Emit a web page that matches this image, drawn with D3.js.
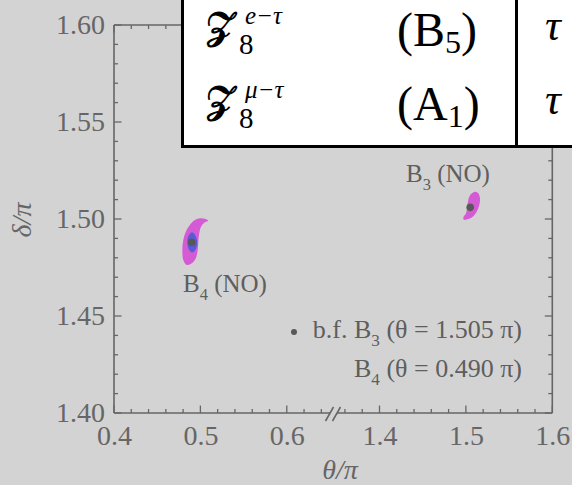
<!DOCTYPE html>
<html>
<head>
<meta charset="utf-8">
<script src="https://cdn.jsdelivr.net/npm/d3@7"></script>
<style>
  html, body { margin: 0; padding: 0; background: #d3d3d3; }
  svg { display: block; }
  text { font-family: "Liberation Serif", "Times New Roman", serif; }
</style>
</head>
<body>
<svg id="chart" width="572" height="485"></svg>
<script>
// Broken theta axis: two windows of theta/pi joined at a break
const xBreak = [0.6535, 1.3462];
const xMajorTicks = [0.4, 0.5, 0.6, 1.4, 1.5, 1.6];
const xMinorTicks = [0.42, 0.44, 0.46, 0.48, 0.52, 0.54, 0.56, 0.58, 0.62, 0.64,
                     1.36, 1.38, 1.42, 1.44, 1.46, 1.48, 1.52, 1.54, 1.56, 1.58];
const yMajorTicks = [1.40, 1.45, 1.50, 1.55, 1.60];
const yMinorTicks = [1.41, 1.42, 1.43, 1.44, 1.46, 1.47, 1.48, 1.49,
                     1.51, 1.52, 1.53, 1.54, 1.56, 1.57, 1.58, 1.59];

// Allowed regions (theta/pi, delta/pi) around the two best-fit points
const regionB4Outer = [
  [0.5073, 1.4998], [0.5091, 1.4991], [0.5045, 1.4981], [0.5007, 1.4960],
  [0.4987, 1.4926], [0.4976, 1.4883], [0.4969, 1.4840], [0.4946, 1.4797],
  [0.4899, 1.4772], [0.4841, 1.4763], [0.4802, 1.4789], [0.4791, 1.4840],
  [0.4802, 1.4892], [0.4841, 1.4943], [0.4899, 1.4981], [0.4957, 1.5000],
  [0.5015, 1.5004]
];
const regionB4Inner = [
  [0.4903, 1.4932], [0.4945, 1.4913], [0.4963, 1.4881], [0.4951, 1.4849],
  [0.4909, 1.4827], [0.4866, 1.4843], [0.4849, 1.4876], [0.4860, 1.4911]
];
const regionB3Outer = [
  [1.5106, 1.5141], [1.5144, 1.5133], [1.5163, 1.5107], [1.5155, 1.5072],
  [1.5125, 1.5038], [1.5079, 1.5012], [1.5028, 1.5000], [1.4978, 1.4996],
  [1.4970, 1.5007], [1.5001, 1.5029], [1.5016, 1.5063], [1.5028, 1.5098],
  [1.5056, 1.5127]
];
const bestFitNames = ["B3", "B4"];
const bestFitTheta = [1.505, 0.490];
const bestFitDelta = [1.506, 1.488];

const svg = d3.select("#chart");
const W = 572, H = 485;
const plotL = 114, plotR = 552.3, plotT = 25, plotB = 413;
const xGap = 333;

const x = d3.scaleLinear()
  .domain([0.4, xBreak[0], xBreak[1], 1.6])
  .range([plotL, xGap, xGap, plotR]);
const y = d3.scaleLinear().domain([1.40, 1.60]).range([plotB, plotT]);

const axisColor = "#666";
const textColor = "#5e5e5e";

svg.append("rect").attr("width", W).attr("height", H).attr("fill", "#d3d3d3");

// Filled regions
const area = d3.line().x(d => x(d[0])).y(d => y(d[1])).curve(d3.curveCatmullRomClosed.alpha(0.5));
const g = svg.append("g");
g.append("path").attr("d", area(regionB4Outer)).attr("fill", "#d55bd5");
g.append("path").attr("d", area(regionB4Inner)).attr("fill", "#5a5ad8");
g.append("path").attr("d", area(regionB3Outer)).attr("fill", "#d55bd5");

// Best-fit points
g.selectAll("circle.bf").data(bestFitTheta).enter().append("circle")
  .attr("class", "bf")
  .attr("cx", d => x(d))
  .attr("cy", (d, i) => y(bestFitDelta[i]))
  .attr("r", 3.8)
  .attr("fill", "#585858");

// Frame
const frame = svg.append("g").attr("stroke", axisColor).attr("stroke-width", 1.6).attr("fill", "none");
frame.append("line").attr("x1", plotL).attr("x2", plotL).attr("y1", plotT).attr("y2", plotB);
frame.append("line").attr("x1", plotR).attr("x2", plotR).attr("y1", plotT).attr("y2", plotB);
frame.append("line").attr("x1", plotL).attr("x2", plotR).attr("y1", plotT).attr("y2", plotT);
frame.append("line").attr("x1", plotL).attr("x2", xGap - 3).attr("y1", plotB).attr("y2", plotB);
frame.append("line").attr("x1", xGap + 4).attr("x2", plotR).attr("y1", plotB).attr("y2", plotB);
// break marks
[-3.5, 3.5].forEach(dx => {
  frame.append("line")
    .attr("x1", xGap + dx - 4).attr("y1", plotB + 8)
    .attr("x2", xGap + dx + 4).attr("y2", plotB - 6);
});

// Tick marks (inward, mirrored on every side)
const ticks = svg.append("g").attr("stroke", axisColor).attr("stroke-width", 1.3);
function xTick(v, len) {
  ticks.append("line").attr("x1", x(v)).attr("x2", x(v)).attr("y1", plotB).attr("y2", plotB - len);
  ticks.append("line").attr("x1", x(v)).attr("x2", x(v)).attr("y1", plotT).attr("y2", plotT + len);
}
function yTick(v, len) {
  ticks.append("line").attr("y1", y(v)).attr("y2", y(v)).attr("x1", plotL).attr("x2", plotL + len);
  ticks.append("line").attr("y1", y(v)).attr("y2", y(v)).attr("x1", plotR).attr("x2", plotR - len);
}
xMajorTicks.forEach(v => xTick(v, 7.5));
xMinorTicks.forEach(v => xTick(v, 4));
yMajorTicks.forEach(v => yTick(v, 7.5));
yMinorTicks.forEach(v => yTick(v, 4));

// Tick labels through D3 axes
const xAxis = d3.axisBottom(x).tickValues(xMajorTicks).tickSize(0).tickPadding(12)
  .tickFormat(d3.format(".1f"));
const xg = svg.append("g").attr("transform", `translate(0,${plotB})`).call(xAxis);
xg.select(".domain").remove();
xg.selectAll("text").attr("fill", axisColor).attr("font-size", 28).attr("dy", "0.71em");

const yAxis = d3.axisLeft(y).tickValues(yMajorTicks).tickSize(0).tickPadding(9)
  .tickFormat(d3.format(".2f"));
const yg = svg.append("g").attr("transform", `translate(${plotL},0)`).call(yAxis);
yg.select(".domain").remove();
yg.selectAll("text").attr("fill", axisColor).attr("font-size", 28);

// Axis titles
svg.append("text").attr("x", 340).attr("y", 479).attr("text-anchor", "middle")
  .attr("fill", axisColor).attr("font-size", 28).attr("font-style", "italic")
  .text("θ/π");
svg.append("text").attr("transform", "translate(31,220) rotate(-90)").attr("text-anchor", "middle")
  .attr("fill", axisColor).attr("font-size", 28).attr("font-style", "italic")
  .text("δ/π");

// Point labels
function subLabel(xp, yp, main, sub, rest, size, anchor) {
  const t = svg.append("text").attr("x", xp).attr("y", yp).attr("fill", textColor)
    .attr("font-size", size).attr("text-anchor", anchor || "start");
  t.append("tspan").text(main);
  t.append("tspan").attr("font-size", size * 0.66).attr("dy", size * 0.3).text(sub);
  t.append("tspan").attr("dy", -size * 0.3).text(rest);
  return t;
}
subLabel(406, 182, "B", "3", " (NO)", 25);
subLabel(183, 292, "B", "4", " (NO)", 25);

// Best-fit legend
svg.append("circle").attr("cx", 294).attr("cy", 332).attr("r", 3).attr("fill", "#585858");
subLabel(522, 338, "b.f. B", "3", " (θ = 1.505 π)", 26, "end");
subLabel(522, 377, "B", "4", " (θ = 0.490 π)", 26, "end");

// Model table
const tbl = svg.append("g");
tbl.append("rect").attr("x", 182.5).attr("y", -10).attr("width", 500).attr("height", 156.5)
  .attr("fill", "white").attr("stroke", "black").attr("stroke-width", 3);
tbl.append("line").attr("x1", 516.5).attr("x2", 516.5).attr("y1", -10).attr("y2", 146)
  .attr("stroke", "black").attr("stroke-width", 3);

const rowModels = ["e−τ", "μ−τ"];
const rowCases = [["B", "5"], ["A", "1"]];
const rowBase = [39, 113];
rowModels.forEach((m, i) => {
  const b = rowBase[i];
  tbl.append("text").attr("x", 206).attr("y", b).attr("fill", "black")
    .attr("font-size", 38).attr("font-weight", "bold").text("𝒵");
  tbl.append("text").attr("x", 245).attr("y", b - 15).attr("font-size", 25)
    .attr("font-style", "italic").attr("fill", "black").text(m);
  tbl.append("text").attr("x", 239).attr("y", b + 15).attr("font-size", 29)
    .attr("fill", "black").text("8");
  const c = tbl.append("text").attr("x", 397).attr("y", b + 7).attr("font-size", 48).attr("fill", "black");
  c.append("tspan").text("(" + rowCases[i][0]);
  c.append("tspan").attr("font-size", 32).attr("dy", 7).text(rowCases[i][1]);
  c.append("tspan").attr("dy", -7).text(")");
  tbl.append("text").attr("x", 545).attr("y", b + 1).attr("font-size", 44)
    .attr("font-style", "italic").attr("fill", "black").text("τ");
});
</script>
</body>
</html>
